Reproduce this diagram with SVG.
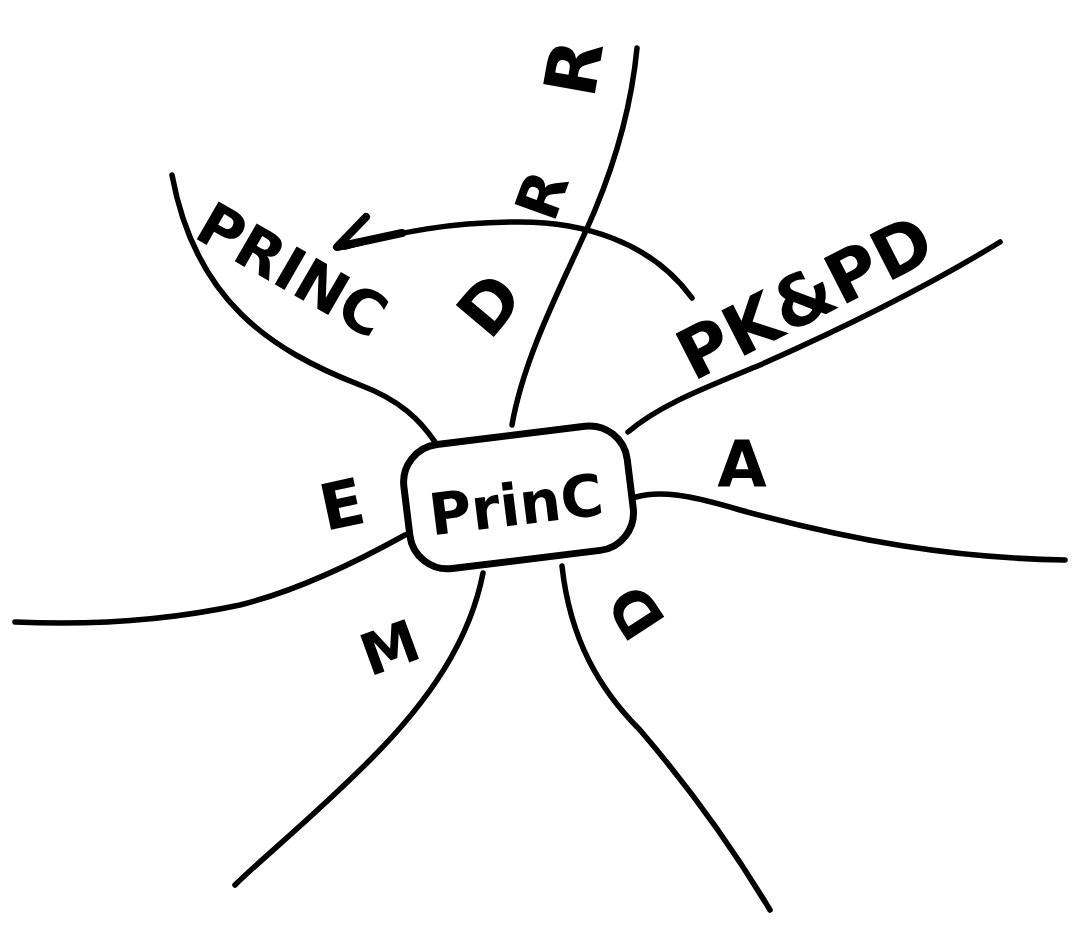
<svg xmlns="http://www.w3.org/2000/svg" width="1075" height="943" viewBox="0 0 1075 943">
<style>
.ln{fill:none;stroke:#000;stroke-width:5.5;stroke-linecap:round;stroke-linejoin:round}
.t{font-family:"DejaVu Sans","Liberation Sans",sans-serif;font-weight:bold;fill:#000;text-anchor:middle;dominant-baseline:central}
</style>
<rect width="1075" height="943" fill="#fff"/>
<g id="connectors">
<path class="ln" d="M172,175 C195,300 270,350 360,385 C400,400 420,420 435,442"/>
<path class="ln" d="M512,425 C525,350 570,270 595,210 C620,150 632,100 637,48"/>
<path class="ln" d="M692,298 C650,240 580,222 520,222 C450,222 400,232 345,247"/>
<path class="ln" d="M366,217 L337,247 L402,233" style="stroke-width:8"/>
<path class="ln" d="M628,432 C660,405 700,390 760,365 C850,325 930,285 1000,242"/>
<path class="ln" d="M636,497 C660,490 690,495 740,510 C850,540 950,558 1065,560"/>
<path class="ln" d="M405,535 C360,560 300,590 240,605 C160,622 80,625 15,622"/>
<path class="ln" d="M483,573 C470,640 430,700 370,760 C310,820 260,860 235,885"/>
<path class="ln" d="M562,566 C570,640 600,690 640,730 C700,800 740,860 770,910"/>
</g>
<g id="node-center">
<rect x="406" y="435" width="225" height="125" rx="38" fill="#fff" stroke="#000" stroke-width="7" transform="rotate(-7 518 497)"/>
<text class="t" x="516" y="505" font-size="58" transform="rotate(-7 516 505)">PrinC</text>
</g>
<g id="label-princ"><text class="t" x="292" y="270" font-size="60" transform="rotate(30 292 270)">PRINC</text></g>
<g id="label-d-top"><text class="t" x="490" y="305" font-size="68" transform="rotate(-50 490 305)">D</text></g>
<g id="label-r-mid"><text class="t" x="542" y="195" font-size="60" transform="rotate(-70 542 195)">R</text></g>
<g id="label-r-top"><text class="t" x="574" y="68" font-size="72" transform="rotate(-80 574 68)">R</text></g>
<g id="label-pkpd"><text class="t" x="805" y="298" font-size="70" transform="rotate(-27 805 298)">PK&amp;PD</text></g>
<g id="label-a"><text class="t" x="742" y="465" font-size="64">A</text></g>
<g id="label-e"><text class="t" x="342" y="505" font-size="64" transform="rotate(-12 342 505)">E</text></g>
<g id="label-m"><text class="t" x="390" y="648" font-size="58" transform="rotate(-20 390 648)">M</text></g>
<g id="label-d-bottom"><text class="t" x="636" y="612" font-size="60" transform="rotate(-123 636 612)">D</text></g>
</svg>
